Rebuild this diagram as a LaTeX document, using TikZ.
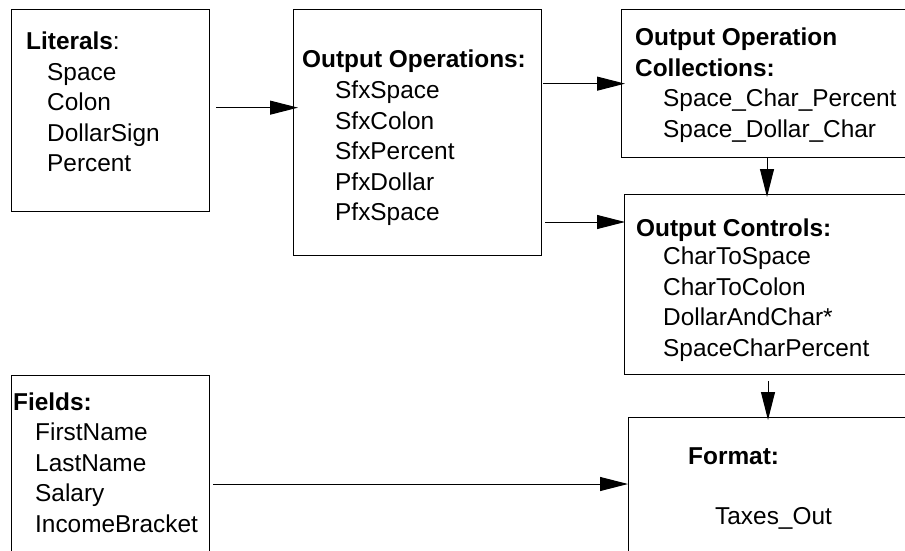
\documentclass[tikz,border=0pt]{standalone}
\usepackage{fontspec}
\setmainfont{Liberation Sans}
\usetikzlibrary{arrows.meta}

\begin{document}
	\begin{tikzpicture}[x=1pt, y=-1pt,
		box/.style={draw, line width=1.3pt, anchor=north west, inner sep=0pt},
		txt/.style={font=\fontsize{24.4}{30.5}\selectfont, align=left, inner sep=0pt},
		conn/.style={-{Triangle[length=28pt, width=14pt]}, line width=1pt}]
		\useasboundingbox (0,0) rectangle (905,551);
		\clip (0,0) rectangle (905,551);
		
		% (1) Literals
		\node[box, minimum width=198pt, minimum height=202pt] (lit) at (11,9) {};
		\node[txt, anchor=base west] (lit-head) at (26,50) {\textbf{Literals}:};
		\node[txt, anchor=north west] (lit-list) at (47,63) {Space\\Colon\\DollarSign\\Percent};
		
		% (2) Output operations
		\node[box, minimum width=248pt, minimum height=246pt] (ops) at (293,9) {};
		\node[txt, anchor=base west] (ops-head) at (302,67) {\textbf{Output Operations:}};
		\node[txt, anchor=north west] (ops-list) at (335,81) {SfxSpace\\SfxColon\\SfxPercent\\PfxDollar\\PfxSpace};
		
		% (3) Collections
		\node[box, minimum width=400pt, minimum height=148pt] (coll) at (621,9) {};
		\node[txt, anchor=north west] (coll-head) at (635,28) {\textbf{Output Operation}\\\textbf{Collections:}};
		\node[txt, anchor=north west] (coll-list) at (663,89) {Space\_Char\_Percent\\Space\_Dollar\_Char};
		
		% (4) Output controls
		\node[box, minimum width=400pt, minimum height=180pt] (ctrl) at (624,194) {};
		\node[txt, anchor=base west] (ctrl-head) at (636,236) {\textbf{Output Controls:}};
		\node[txt, anchor=north west] (ctrl-list) at (663,247) {CharToSpace\\CharToColon\\DollarAndChar*\\SpaceCharPercent};
		
		% (5) Fields
		\node[box, minimum width=198pt, minimum height=250pt] (fields) at (11,375) {};
		\node[txt, anchor=base west] (fields-head) at (13,410) {\textbf{Fields:}};
		\node[txt, anchor=north west] (fields-list) at (35,423) {FirstName\\LastName\\Salary\\IncomeBracket};
		
		% (6) Format
		\node[box, minimum width=400pt, minimum height=250pt] (fmt) at (628,417) {};
		\node[txt, anchor=base west] (fmt-head) at (688,464) {\textbf{Format:}};
		\node[txt, anchor=base west] (fmt-name) at (715,524) {Taxes\_Out};
		
		% arrows
		\coordinate (lit-out) at ([yshift=3pt]lit.east);
		\draw[conn, shorten <=6pt, shorten >=-5pt] (lit-out) -- (lit-out -| ops.west);
		\draw[conn, shorten <=1pt, shorten >=-4pt] (ops.east |- coll.west) -- (coll.west);
		\coordinate (ctrl-in) at ([yshift=-28pt]ctrl.north west);
		\draw[conn, shorten <=3pt, shorten >=-1pt] (ops.east |- ctrl-in) -- (ctrl-in);
		\coordinate (coll-out) at ([xshift=146pt]coll.south west);
		\draw[conn, shorten >=-3pt] (coll-out) -- (coll-out |- ctrl.north);
		\coordinate (ctrl-out) at ([xshift=144pt]ctrl.south west);
		\draw[conn, shorten <=6pt, shorten >=-3pt] (ctrl-out) -- (ctrl-out |- fmt.north);
		\coordinate (fmt-in) at ([yshift=-67pt]fmt.north west);
		\draw[conn, shorten <=3pt] (fields.east |- fmt-in) -- (fmt-in);
	\end{tikzpicture}
\end{document}
